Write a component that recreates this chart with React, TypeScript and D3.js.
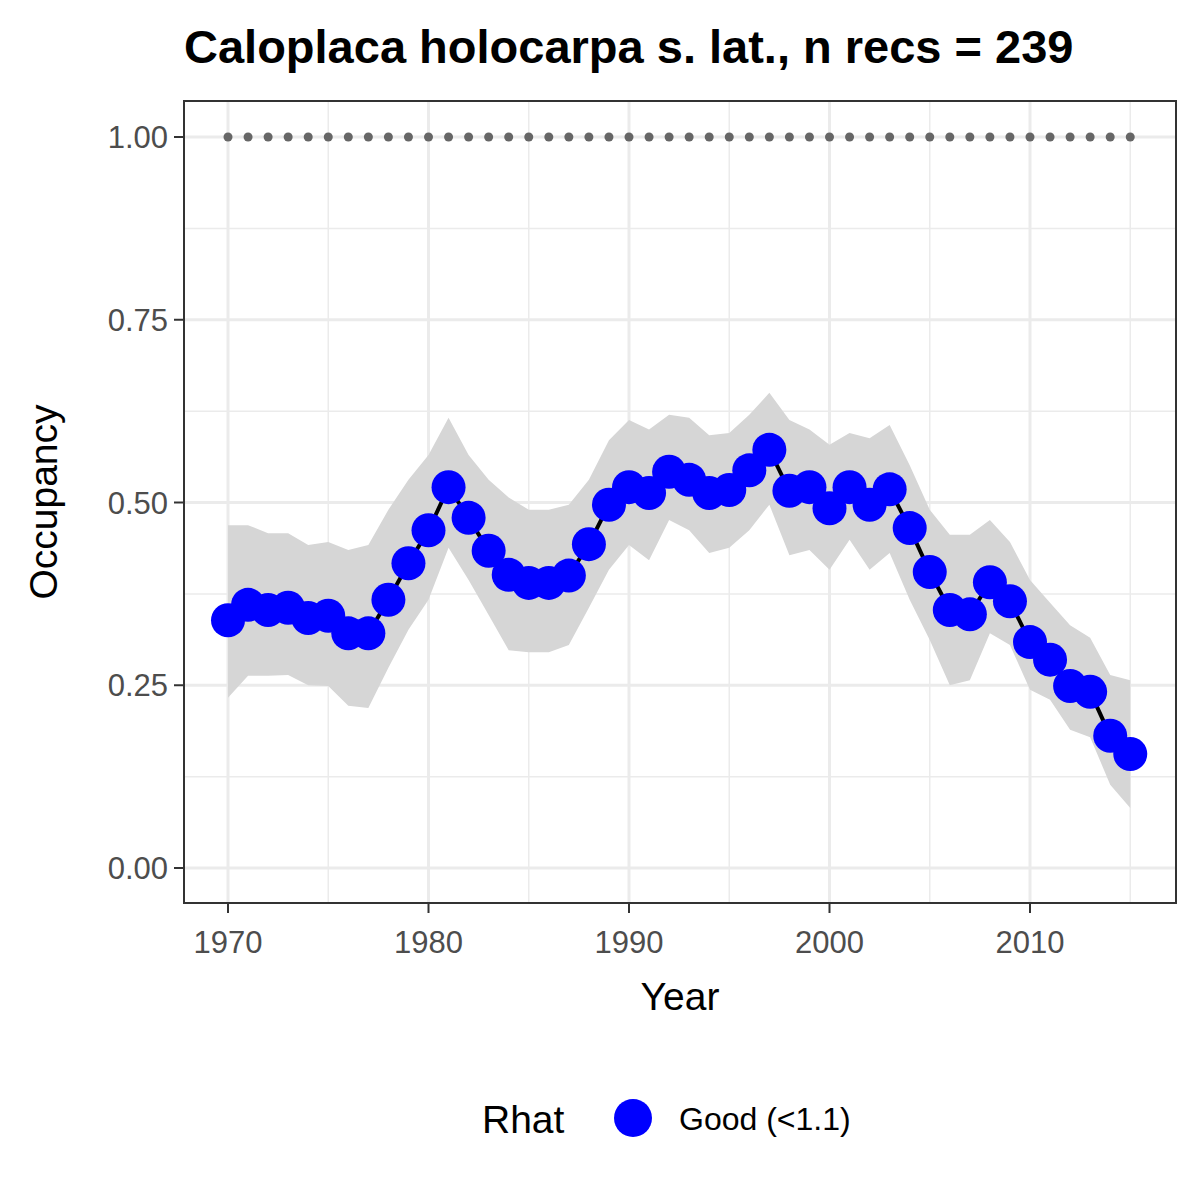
import React from 'react';
import * as d3 from 'd3';

const years = d3.range(1970, 2016);
const mean = [0.339, 0.36, 0.353, 0.356, 0.342, 0.345, 0.321, 0.321, 0.367, 0.417, 0.462, 0.521, 0.479, 0.434, 0.401, 0.39, 0.39, 0.4, 0.443, 0.497, 0.521, 0.513, 0.542, 0.531, 0.513, 0.517, 0.544, 0.572, 0.516, 0.521, 0.492, 0.521, 0.497, 0.518, 0.465, 0.405, 0.353, 0.347, 0.391, 0.365, 0.309, 0.285, 0.249, 0.241, 0.181, 0.156];
const upper = [0.469, 0.469, 0.458, 0.458, 0.442, 0.446, 0.435, 0.442, 0.49, 0.531, 0.565, 0.616, 0.565, 0.531, 0.507, 0.49, 0.49, 0.497, 0.531, 0.585, 0.613, 0.6, 0.62, 0.616, 0.592, 0.595, 0.62, 0.65, 0.613, 0.6, 0.579, 0.595, 0.588, 0.606, 0.551, 0.49, 0.456, 0.456, 0.476, 0.446, 0.394, 0.363, 0.332, 0.315, 0.264, 0.257];
const lower = [0.233, 0.263, 0.263, 0.264, 0.25, 0.249, 0.222, 0.219, 0.274, 0.326, 0.367, 0.438, 0.394, 0.346, 0.298, 0.295, 0.295, 0.305, 0.356, 0.408, 0.442, 0.421, 0.476, 0.462, 0.431, 0.438, 0.462, 0.497, 0.428, 0.435, 0.408, 0.449, 0.408, 0.431, 0.367, 0.312, 0.25, 0.257, 0.321, 0.305, 0.244, 0.23, 0.189, 0.179, 0.114, 0.082];
const xTicks = [1970, 1980, 1990, 2000, 2010];
const yTicks = [0, 0.25, 0.5, 0.75, 1];

const App: React.FC = () => {
  const left = 184, right = 1176, top = 101, bottom = 903;
  const x = d3.scaleLinear().domain([1970, 2010]).range([228, 1030]);
  const y = d3.scaleLinear().domain([0, 1]).range([868, 137]);
  const idx = years.map((_, i) => i);
  const area = d3.area<number>().x(i => x(years[i])).y0(i => y(lower[i])).y1(i => y(upper[i]));
  const line = d3.line<number>().x(i => x(years[i])).y(i => y(mean[i]));
  const font = 'Arial, "Liberation Sans", sans-serif';
  const minorX = [1975, 1985, 1995, 2005, 2015];
  const minorY = [0.125, 0.375, 0.625, 0.875];

  return (
    <svg width={1200} height={1200} style={{ position: 'absolute', left: 0, top: 0, background: '#fff' }} fontFamily={font}>
      <rect x={0} y={0} width={1200} height={1200} fill="#fff" />
      {minorX.map(t => <line key={'mx' + t} x1={x(t)} x2={x(t)} y1={top} y2={bottom} stroke="#ebebeb" strokeWidth={1.5} />)}
      {minorY.map(t => <line key={'my' + t} x1={left} x2={right} y1={y(t)} y2={y(t)} stroke="#ebebeb" strokeWidth={1.5} />)}
      {xTicks.map(t => <line key={'gx' + t} x1={x(t)} x2={x(t)} y1={top} y2={bottom} stroke="#ebebeb" strokeWidth={3} />)}
      {yTicks.map(t => <line key={'gy' + t} x1={left} x2={right} y1={y(t)} y2={y(t)} stroke="#ebebeb" strokeWidth={3} />)}
      <path d={area(idx) || ''} fill="#d6d6d6" />
      <path d={line(idx) || ''} fill="none" stroke="#000" strokeWidth={4} />
      {years.map(yr => <circle key={'d' + yr} cx={x(yr)} cy={y(1)} r={4.5} fill="#666" />)}
      {idx.map(i => <circle key={'p' + i} cx={x(years[i])} cy={y(mean[i])} r={17} fill="#0000ff" />)}
      <rect x={left} y={top} width={right - left} height={bottom - top} fill="none" stroke="#333" strokeWidth={2} />
      {xTicks.map(t => (
        <g key={'xt' + t}>
          <line x1={x(t)} x2={x(t)} y1={bottom} y2={bottom + 10} stroke="#333" strokeWidth={2} />
          <text x={x(t)} y={bottom + 50} textAnchor="middle" fontSize={31} fill="#4d4d4d">{t}</text>
        </g>
      ))}
      {yTicks.map(t => (
        <g key={'yt' + t}>
          <line x1={left - 10} x2={left} y1={y(t)} y2={y(t)} stroke="#333" strokeWidth={2} />
          <text x={left - 16} y={y(t) + 11} textAnchor="end" fontSize={31} fill="#4d4d4d">{t.toFixed(2)}</text>
        </g>
      ))}
      <text x={680} y={1010} textAnchor="middle" fontSize={39}>Year</text>
      <text transform="translate(57,502) rotate(-90)" textAnchor="middle" fontSize={39}>Occupancy</text>
      <text x={184} y={63} fontSize={47} fontWeight="bold">Caloplaca holocarpa s. lat., n recs = 239</text>
      <text x={482} y={1133} fontSize={39}>Rhat</text>
      <circle cx={633} cy={1118} r={19} fill="#0000ff" />
      <text x={679} y={1130} fontSize={32}>Good (&lt;1.1)</text>
    </svg>
  );
};

export default App;
